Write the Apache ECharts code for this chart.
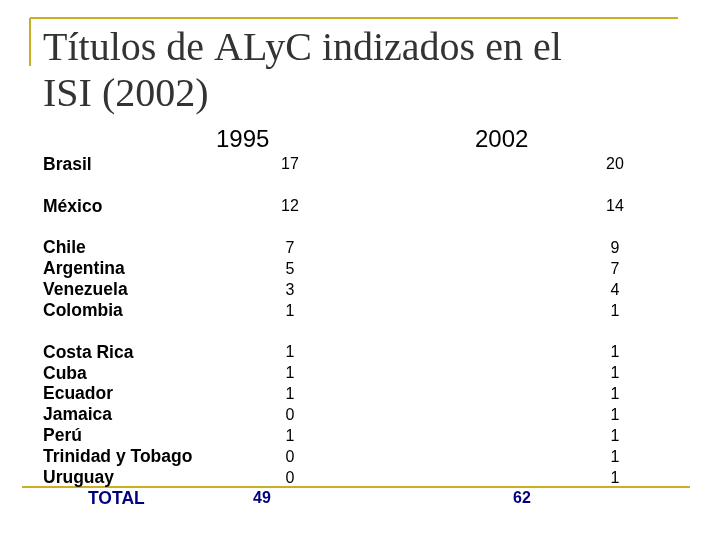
<!DOCTYPE html>
<html><head><meta charset="utf-8">
<script src="https://cdn.jsdelivr.net/npm/echarts@6/dist/echarts.min.js"></script>
<style>html,body{margin:0;padding:0;background:#fff}#c{width:720px;height:540px}</style>
</head><body><div id="c"></div>
<script>
const rows = ['Brasil','','México','','Chile','Argentina','Venezuela','Colombia','','Costa Rica','Cuba','Ecuador','Jamaica','Perú','Trinidad y Tobago','Uruguay','TOTAL'];
const v1995 = [17,null,12,null,7,5,3,1,null,1,1,1,0,1,0,0,49];
const v2002 = [20,null,14,null,9,7,4,1,null,1,1,1,1,1,1,1,62];
const headers = ['1995','2002'];

const chart = echarts.init(document.getElementById('c'));
const isTotal = i => rows[i] === 'TOTAL';
function cells(vals, x, xt){
  return vals.map((v,i)=> v===null?null:{value:[isTotal(i)?xt:x, rows[i]], label:{show:true, formatter:String(v),
    color: isTotal(i)?'#000080':'#000', fontWeight: isTotal(i)?'bold':'normal'}}).filter(d=>d);
}
const nameData = rows.map((r,i)=> r===''?null:{value:[isTotal(i)?88:43, r], label:{show:true, formatter:r,
  color:isTotal(i)?'#000080':'#000'}}).filter(d=>d);
const lbl = {position:'inside', fontFamily:'Liberation Sans, Arial', fontSize:16, color:'#000', textBorderWidth:0, opacity:1};
chart.setOption({
  animation:false,
  grid:{left:0,right:0,top:154.6,bottom:30.6},
  xAxis:{type:'value',min:0,max:720,show:false},
  yAxis:{type:'category',data:rows,inverse:true,show:false},
  graphic:[
    {type:'line',shape:{x1:30,y1:18,x2:678,y2:18},style:{stroke:'#c8b020',lineWidth:2}},
    {type:'line',shape:{x1:30,y1:18,x2:30,y2:66},style:{stroke:'#c8b020',lineWidth:2}},
    {type:'line',shape:{x1:22,y1:487,x2:690,y2:487},style:{stroke:'#c8b020',lineWidth:2}},
    {type:'text',left:43,top:26,style:{text:'Títulos de ALyC indizados en el\nISI (2002)',font:'40px "Liberation Serif", serif',fill:'#333',lineHeight:46}},
    {type:'text',left:216,top:128,style:{text:headers[0],font:'24px "Liberation Sans", Arial',fill:'#000'}},
    {type:'text',left:475,top:128,style:{text:headers[1],font:'24px "Liberation Sans", Arial',fill:'#000'}}
  ],
  series:[
    {type:'scatter',symbolSize:0,itemStyle:{opacity:1},data:nameData,label:Object.assign({},lbl,{position:'right',distance:0,fontWeight:'bold',fontSize:17.5})},
    {type:'scatter',symbolSize:0,itemStyle:{opacity:1},data:cells(v1995,290,262),label:lbl},
    {type:'scatter',symbolSize:0,itemStyle:{opacity:1},data:cells(v2002,615,522),label:lbl}
  ]
});
</script></body></html>
